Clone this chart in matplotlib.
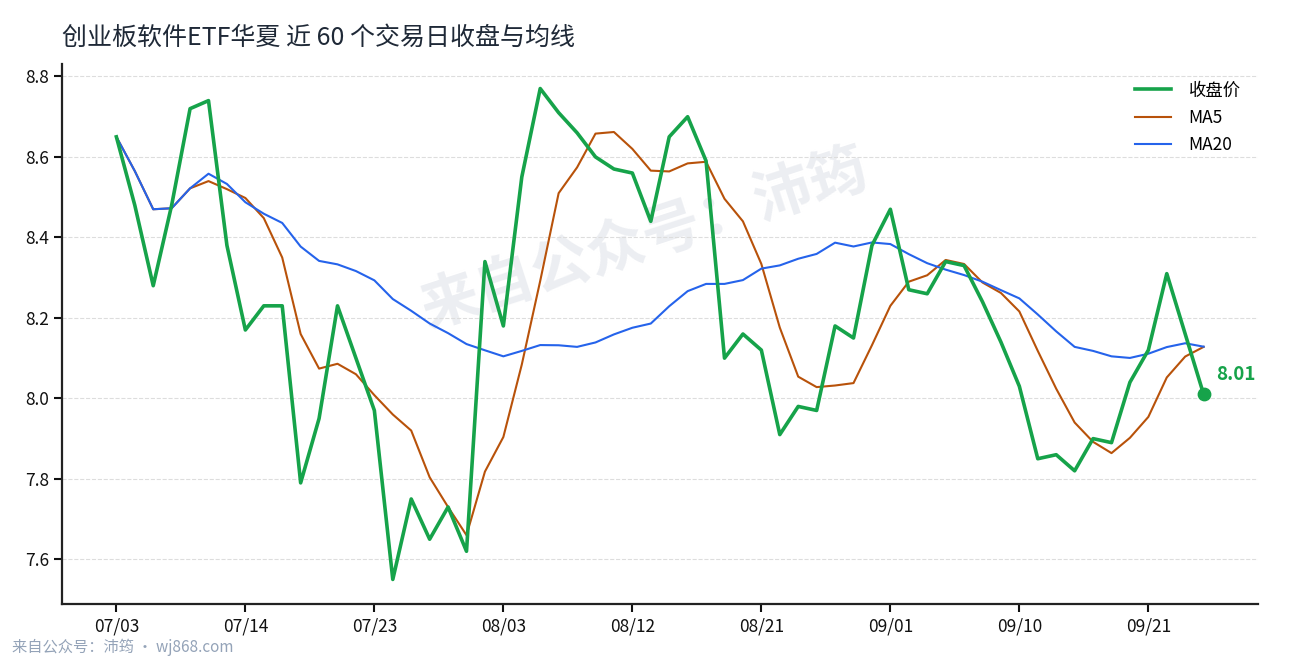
import matplotlib
matplotlib.use("Agg")
import matplotlib.pyplot as plt
import numpy as np
import pandas as pd

plt.rcParams["font.family"] = ["Noto Sans CJK SC", "DejaVu Sans"]

# closing prices, last 60 trading days
close = [
    8.65, 8.48, 8.28, 8.48, 8.72, 8.74, 8.38, 8.17, 8.23, 8.23,
    7.79, 7.95, 8.23, 8.10, 7.97, 7.55, 7.75, 7.65, 7.73, 7.62,
    8.34, 8.18, 8.55, 8.77, 8.71, 8.66, 8.60, 8.57, 8.56, 8.44,
    8.65, 8.70, 8.59, 8.10, 8.16, 8.12, 7.91, 7.98, 7.97, 8.18,
    8.15, 8.38, 8.47, 8.27, 8.26, 8.34, 8.33, 8.24, 8.14, 8.03,
    7.85, 7.86, 7.82, 7.90, 7.89, 8.04, 8.12, 8.31, 8.16, 8.01,
]
tick_labels = ["07/03", "07/14", "07/23", "08/03", "08/12",
               "08/21", "09/01", "09/10", "09/21"]
title = "创业板软件ETF华夏 近 60 个交易日收盘与均线"
footer = "来自公众号：沛筠 · wj868.com"
watermark = "来自公众号：沛筠"

s = pd.Series(close)
ma5 = s.rolling(5, min_periods=1).mean()
ma20 = s.rolling(20, min_periods=1).mean()
x = np.arange(len(close))

fig = plt.figure(figsize=(12.9, 6.6), dpi=100)
ax = fig.add_axes([62 / 1290, 1 - 604 / 660, (1258 - 62) / 1290, (604 - 64) / 660])

# watermark sits behind the data
ax.text(0.5, 1 - 240 / 660, watermark, transform=fig.transFigure,
        fontsize=42, fontweight="bold", color="#eceef2", rotation=18,
        ha="center", va="center", zorder=0)

ax.plot(x, close, color="#16a34a", lw=2.6, label="收盘价", zorder=4)
ax.plot(x, ma5, color="#b8520a", lw=1.5, label="MA5", zorder=3)
ax.plot(x, ma20, color="#2563eb", lw=1.5, label="MA20", zorder=3)

# last close marker + value
ax.scatter([x[-1]], [close[-1]], s=80, color="#16a34a", zorder=5)
ax.annotate(f"{close[-1]:.2f}", (x[-1], close[-1]), xytext=(9, 14),
            textcoords="offset points", color="#16a34a", fontsize=13.5,
            fontweight="bold", va="center", ha="left")

ax.set_xticks(x[::7])
ax.set_xticklabels(tick_labels)
ax.set_yticks([7.6, 7.8, 8.0, 8.2, 8.4, 8.6, 8.8])
ax.yaxis.set_major_formatter(matplotlib.ticker.FormatStrFormatter("%.1f"))
ax.tick_params(labelsize=12.5, length=6, width=1.5, colors="#111111")
ax.grid(axis="y", ls="--", color="#dddddd", lw=0.8)
ax.set_axisbelow(True)
for side in ["top", "right"]:
    ax.spines[side].set_visible(False)
for side in ["left", "bottom"]:
    ax.spines[side].set_linewidth(1.6)
    ax.spines[side].set_color("#222222")

ax.legend(loc="upper right", frameon=False, fontsize=12.5,
          handlelength=2.1, handletextpad=1.0, borderaxespad=0.6,
          labelspacing=0.55)

fig.text(62 / 1290, 1 - 38 / 660, title, fontsize=18, color="#1f2937",
         ha="left", va="center")
fig.text(12 / 1290, 1 - 647 / 660, footer, fontsize=11, color="#94a3b8",
         ha="left", va="center")

fig.savefig("out.png", dpi=100)
